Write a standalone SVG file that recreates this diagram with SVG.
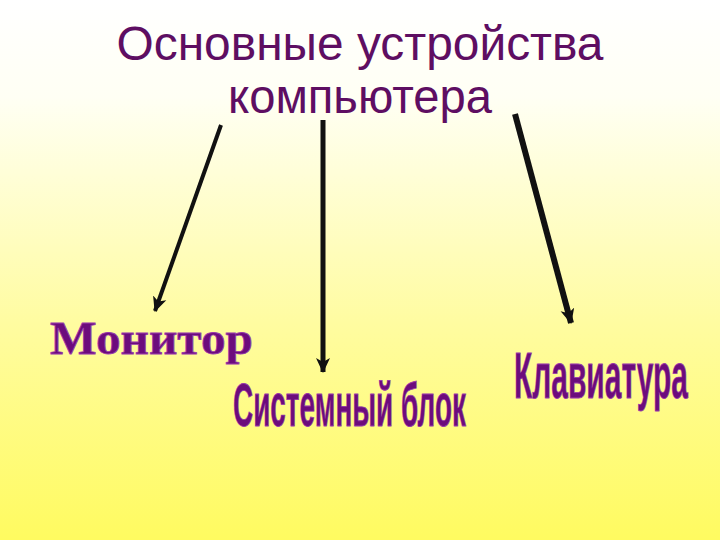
<svg xmlns="http://www.w3.org/2000/svg" width="720" height="540" viewBox="0 0 720 540">
  <defs>
    <linearGradient id="bg" x1="0" y1="0" x2="0" y2="1">
      <stop offset="0" stop-color="#FFFFFF"/>
      <stop offset="0.18" stop-color="#FFFFF4"/>
      <stop offset="0.6" stop-color="#FFFCA0"/>
      <stop offset="1" stop-color="#FFFB60"/>
    </linearGradient>
    <marker id="ah" viewBox="0 0 16 16" refX="14" refY="8" markerWidth="16" markerHeight="16" markerUnits="userSpaceOnUse" orient="auto">
      <path d="M0,1 L15,8 L0,15 L4,8 Z" fill="#111"/>
    </marker>
    <style>
      .title { font-family: "Liberation Sans", Arial, sans-serif; font-size: 48px; fill: #5E0E62; text-anchor: middle; }
      .lbl { fill: #6C0C7C; stroke: #9A3AAA; stroke-width: 0.8; }
      .serif { font-family: "Liberation Serif", "Times New Roman", serif; font-weight: bold; }
      .cond { font-family: "Liberation Sans", Arial, sans-serif; font-weight: bold; }
      .arrow { stroke: #111; fill: none; marker-end: url(#ah); }
    </style>
  </defs>
  <rect x="0" y="0" width="720" height="540" fill="url(#bg)"/>

  <g id="title">
    <text class="title" x="360" y="60" textLength="487" lengthAdjust="spacingAndGlyphs">Основные устройства</text>
    <text class="title" x="360" y="113" textLength="264" lengthAdjust="spacingAndGlyphs">компьютера</text>
  </g>

  <g id="connectors">
    <line class="arrow" x1="221" y1="125" x2="155" y2="311" stroke-width="4"/>
    <line class="arrow" x1="323" y1="120" x2="323" y2="372" stroke-width="5"/>
    <line class="arrow" x1="515" y1="114" x2="571" y2="323" stroke-width="6"/>
  </g>

  <g id="monitor">
    <text class="lbl serif" x="50" y="354" font-size="46" textLength="203" lengthAdjust="spacingAndGlyphs">Монитор</text>
  </g>
  <g id="system-unit">
    <text class="lbl cond" x="233" y="426" font-size="62" textLength="233" lengthAdjust="spacingAndGlyphs">Системный блок</text>
  </g>
  <g id="keyboard">
    <text class="lbl cond" x="514" y="398" font-size="64" textLength="174" lengthAdjust="spacingAndGlyphs">Клавиатура</text>
  </g>
</svg>
